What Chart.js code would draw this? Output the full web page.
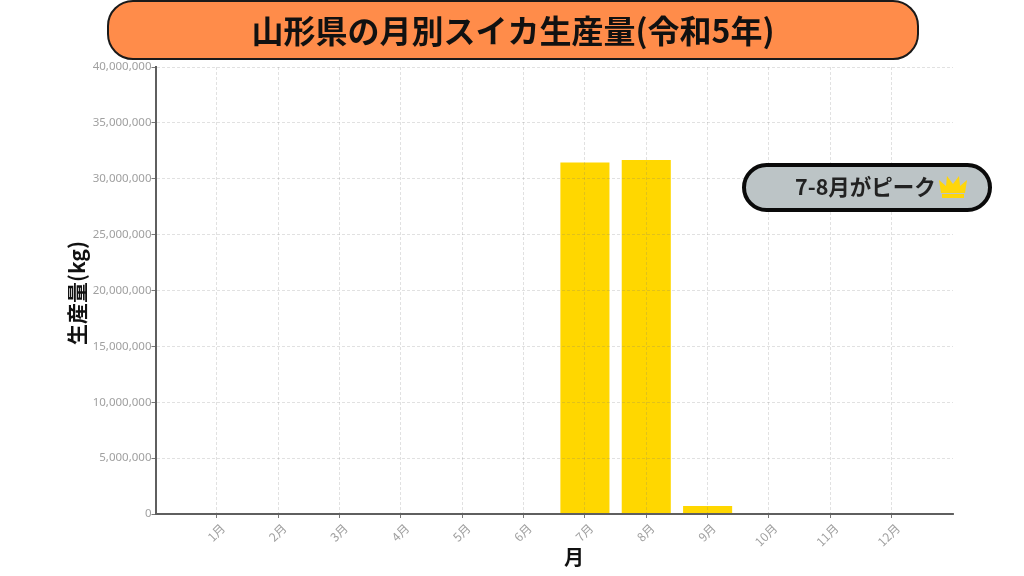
<!DOCTYPE html>
<html lang="ja"><head><meta charset="utf-8">
<script src="https://cdn.jsdelivr.net/npm/chart.js@4"></script>
<style>
html,body{margin:0;padding:0;background:#fff;width:1024px;height:576px;overflow:hidden;font-family:"Noto Sans CJK JP",sans-serif}
#wrap{position:relative;width:1024px;height:576px}
canvas{position:absolute;left:0;top:0}
#title{position:absolute;left:107px;top:0;width:812px;height:60px;box-sizing:border-box;background:#ff8c4a;border:2px solid #1a1a1a;border-radius:26px;text-align:center;font-weight:700;font-size:32px;line-height:55px;color:#111;}
#note{position:absolute;left:742px;top:163px;width:250px;height:49px;box-sizing:border-box;background:#bcc4c6;border:4.5px solid #0a0a0a;border-radius:25px;font-weight:700;font-size:21.5px;line-height:37px;color:#222;padding-left:49px;white-space:nowrap}
#note svg{position:absolute;left:192px;top:6px}
</style></head><body>
<div id="wrap">
<canvas id="c" width="1024" height="576"></canvas>
<div id="title">山形県の月別スイカ生産量(令和5年)</div>
<div id="note">7-8月がピーク<svg width="30" height="26" viewBox="0 0 30 26"><path d="M3 20L1 7 8 13 9 3 15 11 21 3 22 13 29 7 27 20Z" fill="#ffd60a"/><rect x="4" y="21" width="22" height="4" fill="#ffd60a"/></svg></div>
</div>
<script>
const months=["1月","2月","3月","4月","5月","6月","7月","8月","9月","10月","11月","12月"];
const production=[0,0,0,0,0,50000,31450000,31680000,720000,0,0,0];
const yMax=40000000, yStep=5000000;
const yTitle="生産量(kg)", xTitle="月";
const jp='"Noto Sans CJK JP",sans-serif';
new Chart(document.getElementById('c'),{
  type:'bar',
  data:{datasets:[{data:production.map((v,i)=>({x:i+1,y:v})),backgroundColor:'#ffd700',barPercentage:0.8,categoryPercentage:1}]},
  options:{
    responsive:false,animation:false,
    layout:{padding:{top:67,right:71,bottom:0,left:0}},
    plugins:{legend:{display:false},tooltip:{enabled:false}},
    scales:{
      x:{type:'linear',offset:false,min:0,max:months.length+1,
        afterBuildTicks(s){s.ticks=months.map((m,i)=>({value:i+1}));},
        afterFit(s){s.height=62;s.paddingLeft=0;s.paddingRight=0;},
        ticks:{autoSkip:false,maxRotation:45,minRotation:45,align:'center',labelOffset:6,color:'#a0a0a0',font:{family:jp,size:12},padding:3,callback:v=>months[v-1]},
        grid:{offset:false,color:'rgba(120,120,120,.28)',tickColor:'#555',tickLength:4,lineWidth:.8,z:1},
        border:{color:'#5f5f5f',width:2,dash:[3,2],z:2}
      },
      y:{min:0,max:yMax,
        afterFit(s){s.width=155.5;},
        ticks:{stepSize:yStep,color:'#a0a0a0',font:{family:'"Noto Sans","Open Sans",sans-serif',size:11.5},padding:0,callback:v=>v.toLocaleString('en-US')},
        grid:{color:'rgba(120,120,120,.28)',tickColor:'#555',tickLength:4,lineWidth:.8,z:1},
        border:{color:'#5f5f5f',width:2,dash:[3,2],z:2}
      }
    }
  },
  plugins:[{id:'axisTitles',afterDraw(ch){const c=ch.ctx;c.save();c.fillStyle='#111';c.textAlign='center';c.textBaseline='middle';
    c.font='700 20px '+jp;c.fillText(xTitle,574,557);
    c.translate(77,293);c.rotate(-Math.PI/2);c.font='700 21px '+jp;c.fillText(yTitle,0,0);c.restore();}}]
});
</script>
</body></html>
